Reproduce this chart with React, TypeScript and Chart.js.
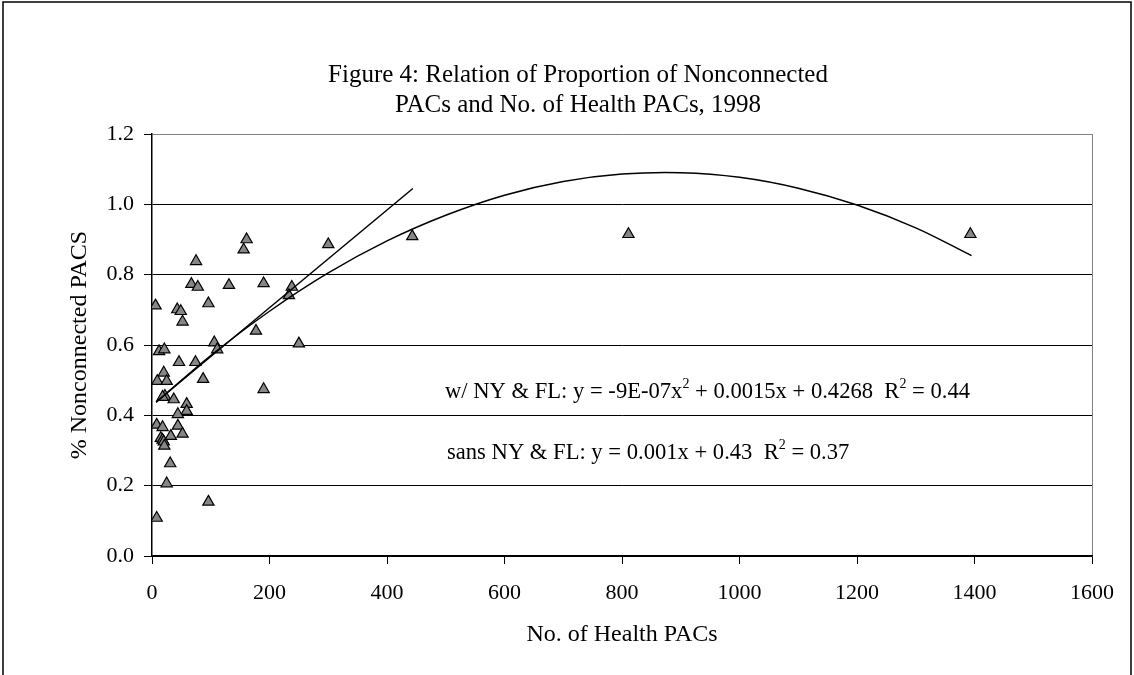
import React, { useEffect, useRef } from 'react';
import { Chart, registerables } from 'chart.js';

Chart.register(...registerables);

// ---- Data ----
const pacCounts = [
  161, 156, 300, 75, 67, 78, 131, 190, 238, 233,
  6, 43, 49, 96, 52, 177, 106, 111, 250, 12,
  21, 46, 74, 20, 9, 25, 87, 190, 22, 18,
  37, 59, 59, 44, 8, 18, 44, 15, 18, 20,
  32, 52, 21, 31, 25, 96, 8, 443, 811, 1393,
];
const nonconnectedShare = [
  0.900, 0.871, 0.886, 0.838, 0.773, 0.765, 0.770, 0.775, 0.765, 0.741,
  0.712, 0.701, 0.696, 0.718, 0.666, 0.640, 0.607, 0.587, 0.604, 0.582,
  0.587, 0.551, 0.551, 0.521, 0.497, 0.497, 0.503, 0.474, 0.455, 0.452,
  0.445, 0.432, 0.412, 0.403, 0.373, 0.366, 0.370, 0.335, 0.330, 0.325,
  0.341, 0.347, 0.313, 0.263, 0.206, 0.154, 0.108, 0.909, 0.915, 0.915,
];

// Trend line with NY & FL (polynomial)
const quadFitX = [7, 100, 200, 300, 400, 500, 600, 700, 800, 900, 1000, 1100, 1200, 1300, 1395];
const quadFitY = [0.437, 0.570, 0.696, 0.805, 0.896, 0.969, 1.026, 1.065, 1.086, 1.090, 1.077, 1.046, 0.998, 0.933, 0.854];

// Trend line without NY & FL (linear), end points
const linFitX = [7, 444];
const linFitY = [0.438, 1.045];

const xMin = 0;
const xMax = 1600;
const xStep = 200;
const yMin = 0;
const yMax = 1.2;
const yStep = 0.2;

const chartTitle = ['Figure 4: Relation of Proportion of Nonconnected', 'PACs and No. of Health PACs, 1998'];
const xAxisTitle = 'No. of Health PACs';
const yAxisTitle = '% Nonconnected PACS';

// [text, isSuperscript]
const eqWithNYFL: [string, boolean][] = [
  ['w/ NY & FL: y = -9E-07x', false],
  ['2', true],
  [' + 0.0015x + 0.4268  R', false],
  ['2', true],
  [' = 0.44', false],
];
const eqSansNYFL: [string, boolean][] = [
  ['sans NY & FL: y = 0.001x + 0.43  R', false],
  ['2', true],
  [' = 0.37', false],
];

const FONT = "'Liberation Serif', 'Times New Roman', serif";

const annotationPlugin = {
  id: 'eqAnnotations',
  afterDraw(chart: any) {
    const { ctx } = chart;
    const drawLine = (parts: [string, boolean][], x: number, y: number) => {
      ctx.save();
      ctx.fillStyle = '#000';
      ctx.textBaseline = 'middle';
      ctx.textAlign = 'left';
      let cx = x;
      for (const [t, sup] of parts) {
        ctx.font = sup ? `14px ${FONT}` : `22.6px ${FONT}`;
        ctx.fillText(t, cx, sup ? y - 8 : y);
        cx += ctx.measureText(t).width;
      }
      ctx.restore();
    };
    drawLine(eqWithNYFL, 445, 392);
    drawLine(eqSansNYFL, 447, 453);
  },
};

const borderPlugin = {
  id: 'outerBorder',
  beforeDraw(chart: any) {
    const { ctx, width, height } = chart;
    ctx.save();
    ctx.fillStyle = '#fff';
    ctx.fillRect(0, 0, width, height);
    ctx.strokeStyle = '#000';
    ctx.lineWidth = 1.5;
    ctx.beginPath();
    ctx.moveTo(3, height);
    ctx.lineTo(3, 2);
    ctx.lineTo(1131, 2);
    ctx.lineTo(1131, height);
    ctx.stroke();
    ctx.restore();
  },
};

export default function App() {
  const canvasRef = useRef<HTMLCanvasElement | null>(null);

  useEffect(() => {
    if (!canvasRef.current) return;
    const scatterData = pacCounts.map((x, i) => ({ x, y: nonconnectedShare[i] }));
    const quadData = quadFitX.map((x, i) => ({ x, y: quadFitY[i] }));
    const linData = linFitX.map((x, i) => ({ x, y: linFitY[i] }));

    const chart = new Chart(canvasRef.current, {
      type: 'scatter',
      data: {
        datasets: [
          {
            label: 'w/ NY & FL trend',
            data: quadData,
            showLine: true,
            borderColor: '#000',
            borderWidth: 1.5,
            pointRadius: 0,
            tension: 0.35,
            fill: false,
          } as any,
          {
            label: 'sans NY & FL trend',
            data: linData,
            showLine: true,
            borderColor: '#000',
            borderWidth: 1.5,
            pointRadius: 0,
            fill: false,
          } as any,
          {
            label: 'States',
            data: scatterData,
            pointStyle: 'triangle',
            pointRadius: 6.5,
            pointBackgroundColor: '#868686',
            pointBorderColor: '#000',
            pointBorderWidth: 1.2,
            showLine: false,
          } as any,
        ],
      },
      options: {
        animation: false,
        responsive: false,
        maintainAspectRatio: false,
        events: [],
        layout: { padding: { left: 64, right: 42, top: 0, bottom: 0 } },
        plugins: {
          legend: { display: false },
          tooltip: { enabled: false },
          title: {
            display: true,
            text: chartTitle,
            color: '#000',
            font: { family: FONT, size: 25, weight: 'normal', lineHeight: 1.2 },
            padding: { top: 60, bottom: 14 },
          },
        },
        scales: {
          x: {
            type: 'linear',
            min: xMin,
            max: xMax,
            afterFit: (s: any) => { s.height = 675 - 556; },
            afterBuildTicks: (s: any) => {
              const t = [];
              for (let v = xMin; v <= xMax; v += xStep) t.push({ value: v });
              s.ticks = t;
            },
            ticks: {
              color: '#000',
              font: { family: FONT, size: 22 },
              padding: 16,
              maxRotation: 0,
              autoSkip: false,
              callback: (v: any) => String(v),
            },
            grid: {
              color: (c: any) => (c.tick && c.tick.value === xMax ? '#808080' : 'rgba(0,0,0,0)'),
              tickColor: '#000',
              tickLength: 8,
              lineWidth: 1,
            },
            border: { display: true, color: '#000', width: 1.5 },
            title: {
              display: true,
              text: xAxisTitle,
              color: '#000',
              font: { family: FONT, size: 24, weight: 'normal', lineHeight: 1.2 },
              padding: { top: 0, bottom: 26 },
            },
          },
          y: {
            type: 'linear',
            min: yMin,
            max: yMax,
            afterFit: (s: any) => { s.width = 152 - 64; },
            afterBuildTicks: (s: any) => {
              const t = [];
              for (let i = 0; i <= Math.round((yMax - yMin) / yStep); i++) t.push({ value: +(yMin + i * yStep).toFixed(1) });
              s.ticks = t;
            },
            ticks: {
              color: '#000',
              font: { family: FONT, size: 22 },
              padding: 10,
              autoSkip: false,
              callback: (v: any) => Number(v).toFixed(1),
            },
            grid: {
              color: (c: any) => (c.tick && Math.abs(c.tick.value - yMax) < 1e-6 ? '#808080' : '#000'),
              tickColor: '#000',
              tickLength: 8,
              lineWidth: 1,
            },
            border: { display: true, color: '#000', width: 1.5 },
            title: {
              display: true,
              text: yAxisTitle,
              color: '#000',
              font: { family: FONT, size: 24, weight: 'normal', lineHeight: 1.2 },
              padding: { top: 1, bottom: 0 },
            },
          },
        },
      },
      plugins: [borderPlugin, annotationPlugin],
    } as any);

    return () => chart.destroy();
  }, []);

  return (
    <div style={{ position: 'fixed', left: 0, top: 0, width: 1134, height: 675, background: '#fff' }}>
      <canvas ref={canvasRef} width={1134} height={675} style={{ width: 1134, height: 675, display: 'block' }} />
    </div>
  );
}
